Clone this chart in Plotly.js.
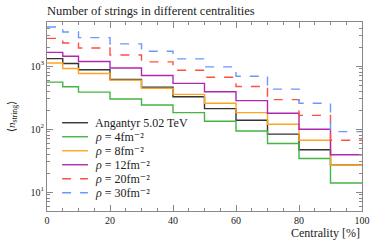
<!DOCTYPE html>
<html><head><meta charset="utf-8">
<script src="https://cdn.plot.ly/plotly-3.0.1.min.js"></script>
<style>html,body{margin:0;padding:0;background:#fff}</style>
</head><body>
<div id="chart" style="width:374px;height:243px"></div>
<script>
const binEdges = [0,5,10,20,30,40,50,60,70,80,90,100];
const angantyr = [1313,1095,871,612,462,326,211,138,83,47,27];
const rho4  = [555,469,385,299,241,182,133,93,59,34,13.9];
const rho8  = [1120,914,762,597,442,355,256,182,119,66.5,26.8];
const rho12 = [1650,1430,1180,930,708,530,391,282,178,99,39];
const rho20 = [2750,2320,1935,1500,1165,858,665,474,293,165,66.5];
const rho30 = [4160,3470,2820,2245,1715,1300,970,690,430,256,91];
const seriesNames = ['Angantyr 5.02 TeV','<i>ρ</i> = 4fm⁻²','<i>ρ</i> = 8fm⁻²','<i>ρ</i> = 12fm⁻²','<i>ρ</i> = 20fm⁻²','<i>ρ</i> = 30fm⁻²'];
const colors = ['#333333','#44b444','#ffa520','#b028b0','#ff5040','#6a98ff'];
const dashes = ['solid','solid','solid','solid','dash','dash'];
const allSeries = [angantyr, rho4, rho8, rho12, rho20, rho30];

const traces = allSeries.map((vals, i) => ({
  x: binEdges,
  y: vals.concat([vals[vals.length-1]]),
  mode: 'lines',
  line: {shape: 'hv', color: colors[i], width: 1.4, dash: dashes[i]},
  name: seriesNames[i],
  showlegend: false
}));

const minorY = [];
[1,10,100,1000].forEach(d => { for (let k=2;k<=9;k++){ const v=d*k; if (v>=5 && v<=5000 && v!==10 && v!==100 && v!==1000) minorY.push(v);} });

const fam = 'Liberation Serif, DejaVu Serif, serif';
const txt = '#222';

// custom compact legend (layout element)
const legX0 = 0.048, legX1 = 0.130, legTX = 0.147, legY0 = 0.467, legDY = 0.0741;
const legShapes = [], legAnn = [];
seriesNames.forEach((n, i) => {
  const yy = legY0 - i * legDY;
  legShapes.push({type: 'line', xref: 'paper', yref: 'paper', x0: legX0, x1: legX1, y0: yy, y1: yy,
                  line: {color: colors[i], width: 1.4, dash: dashes[i]}});
  legAnn.push({text: n, xref: 'paper', yref: 'paper', x: legTX, y: yy, xanchor: 'left', yanchor: 'middle',
               showarrow: false, font: {family: fam, size: 12, color: txt}});
});

const layout = {
  width: 374, height: 243,
  margin: {l: 47, r: 12, t: 22, b: 32},
  paper_bgcolor: '#fff', plot_bgcolor: '#fff',
  font: {family: fam, size: 11, color: txt},
  showlegend: false,
  title: {text: 'Number of strings in different centralities', x: 0, xref: 'paper', xanchor: 'left',
          y: 0.955, yref: 'container', yanchor: 'middle', font: {family: fam, size: 12.5, color: txt}},
  xaxis: {range: [0, 100], tickvals: [0,20,40,60,80,100], ticks: 'inside', ticklen: 6, tickcolor: '#888',
          showline: true, linecolor: '#888', mirror: 'allticks', showgrid: false, zeroline: false,
          tickfont: {family: fam, size: 10, color: txt},
          minor: {tickvals: [5,10,15,25,30,35,45,50,55,65,70,75,85,90,95], ticks: 'inside', ticklen: 3, tickcolor: '#888'}},
  yaxis: {type: 'log', range: [Math.log10(5), Math.log10(5000)], tickvals: [10,100,1000],
          ticktext: ['10<sup>1</sup>','10<sup>2</sup>','10<sup>3</sup>'], ticks: 'inside', ticklen: 6, tickcolor: '#888',
          showline: true, linecolor: '#888', mirror: 'allticks', showgrid: false, zeroline: false,
          tickfont: {family: fam, size: 10, color: txt},
          minor: {tickvals: minorY, ticks: 'inside', ticklen: 3, tickcolor: '#888'},
          title: {text: '⟨<i>n</i><sub>string</sub>⟩', standoff: 12, font: {family: fam, size: 11, color: txt}}},
  shapes: legShapes,
  annotations: legAnn.concat([{text: 'Centrality [%]', xref: 'paper', yref: 'paper', x: 1, y: -0.116, xanchor: 'right', yanchor: 'middle',
                 showarrow: false, font: {family: fam, size: 12, color: txt}}])
};
Plotly.newPlot('chart', traces, layout, {displayModeBar: false, staticPlot: true});
</script>
</body></html>
